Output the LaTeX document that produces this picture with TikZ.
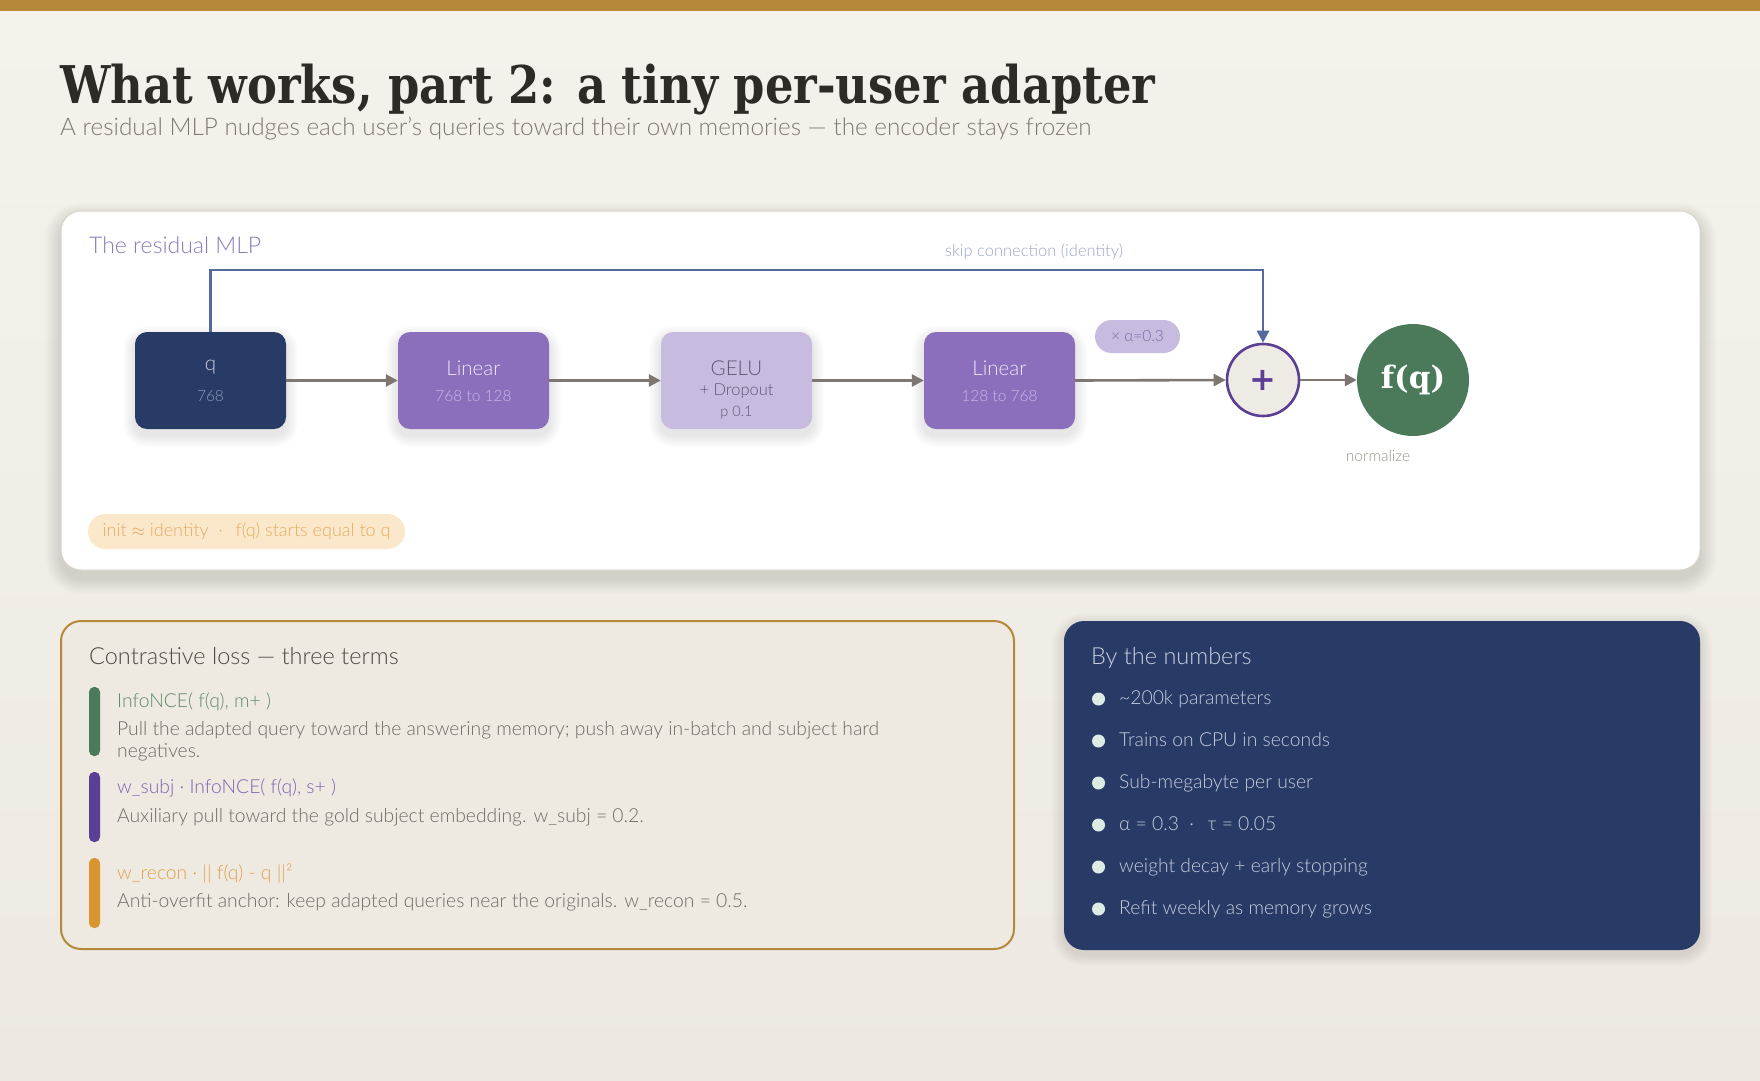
\documentclass[tikz,border=0pt]{standalone}
\usepackage{fontspec}
\setmainfont{Lato Light}
\newfontfamily\titlefont{DejaVu Serif Bold}
\newfontfamily\plusfont{DejaVu Sans Bold}
\usetikzlibrary{arrows.meta}
\definecolor{gold}{HTML}{B5883A}
\definecolor{bgtop}{HTML}{F5F2EC}
\definecolor{bgbot}{HTML}{EDE9E2}
\definecolor{titlec}{HTML}{2E2A25}
\definecolor{subc}{HTML}{7D7871}
\definecolor{cardborder}{HTML}{DAD4C8}
\definecolor{navy}{HTML}{283B66}
\definecolor{violet}{HTML}{8B6FBD}
\definecolor{lavender}{HTML}{C7BCE0}
\definecolor{arrowc}{HTML}{7E7670}
\definecolor{skipc}{HTML}{56699E}
\definecolor{skiplab}{HTML}{9AA6CC}
\definecolor{deeppurple}{HTML}{5B3F95}
\definecolor{cream}{HTML}{EEEAE4}
\definecolor{green}{HTML}{4A7A5A}
\definecolor{initfill}{HTML}{FBE7CA}
\definecolor{inittext}{HTML}{E2AD62}
\definecolor{lossfill}{HTML}{EEE9E1}
\definecolor{losstitle}{HTML}{4D4843}
\definecolor{descc}{HTML}{6F6A64}
\definecolor{greenhead}{HTML}{5E8C6A}
\definecolor{purplehead}{HTML}{7A66B0}
\definecolor{orangehead}{HTML}{E0A24A}
\definecolor{orangebar}{HTML}{D9952F}
\definecolor{numtitle}{HTML}{C9CFE0}
\definecolor{bulletc}{HTML}{DCEBE4}
\definecolor{numtext}{HTML}{C5CCDD}
\definecolor{mlplab}{HTML}{8B7BB8}
\definecolor{qtext}{HTML}{C9CFE0}
\definecolor{qsub}{HTML}{8E9ABB}
\definecolor{lintext}{HTML}{EEE7F8}
\definecolor{linsub}{HTML}{C9B8E6}
\definecolor{gelutext}{HTML}{5F5770}
\definecolor{alphatext}{HTML}{7A6BA6}
\definecolor{normc}{HTML}{9A948C}
% soft layered shadow: x1 y1 x2 y2 radius yoffset layers step opacity
\newcommand\mysoftshadow[9]{%
  \foreach \k in {1,...,#7}{%
    \fill[black,opacity=#9,rounded corners={(#5+\k*#8)*1pt}]
      ({#1-\k*#8},{#2+#6-\k*#8}) rectangle ({#3+\k*#8},{#4+#6+\k*#8});
  }}
\tikzset{
  block/.style={rounded corners=12pt,minimum width=151pt,minimum height=97pt,inner sep=0pt},
  arr/.style={draw=arrowc,line width=2.6pt,-{Triangle[length=12pt,width=12pt]}},
  skiparr/.style={draw=skipc,line width=2.6pt,-{Triangle[length=12pt,width=12pt]}},
  lbl/.style={inner sep=0pt},
  bl/.style={inner sep=0pt,anchor=base west},
  bullet/.style={circle,fill=bulletc,minimum size=13pt,inner sep=0pt},
}
\begin{document}
\begin{tikzpicture}[x=1pt,y=-1pt]
\useasboundingbox (0,0) rectangle (1760,1080);
\shade[top color=bgtop,bottom color=bgbot] (0,0) rectangle (1760,1080);
\fill[gold] (0,0) rectangle (1760,11);
% title
\node[bl,text=titlec] (title) at (60,103) {\resizebox{1095pt}{\height}{\titlefont\fontsize{52}{60}\selectfont What works, part 2: a tiny per-user adapter}};
\node[bl,text=subc] (subtitle) at (60,135) {\fontsize{24.3}{28}\selectfont A residual MLP nudges each user's queries toward their own memories — the encoder stays frozen};
% main card
\mysoftshadow{61}{211}{1700}{570}{20}{8}{10}{1.6}{0.012}
\node[draw=cardborder,line width=1pt,fill=white,rounded corners=20pt,minimum width=1639pt,minimum height=359pt,inner sep=0pt] (card) at (880.5,390.5) {};
\node[bl,text=mlplab] (mlptitle) at (89,253) {\fontsize{23}{27}\selectfont The residual MLP};
% blocks
\mysoftshadow{135}{332}{286}{429}{12}{6}{8}{1.5}{0.012}
\mysoftshadow{398}{332}{549}{429}{12}{6}{8}{1.5}{0.012}
\mysoftshadow{661}{332}{812}{429}{12}{6}{8}{1.5}{0.012}
\mysoftshadow{924}{332}{1075}{429}{12}{6}{8}{1.5}{0.012}
\node[block,fill=navy] (q) at (210.5,380.5) {};
\node[lbl,text=qtext] (qt) at (210.5,367) {\fontsize{20.5}{24}\selectfont q};
\node[lbl,text=qsub] (qs) at (210.5,396) {\fontsize{15.5}{18}\selectfont 768};
\node[block,fill=violet] (lin1) at (473.5,380.5) {};
\node[lbl,text=lintext] (l1t) at (473.5,368) {\fontsize{20.5}{24}\selectfont Linear};
\node[lbl,text=linsub] (l1s) at (473.5,396) {\fontsize{15.5}{18}\selectfont 768 to 128};
\node[block,fill=lavender] (gelu) at (736.5,380.5) {};
\node[lbl,text=gelutext] (gt) at (736.5,368) {\fontsize{20.5}{24}\selectfont GELU};
\node[lbl,text=gelutext] (gd) at (736.5,391) {\fontsize{16.5}{19}\selectfont + Dropout};
\node[lbl,text=gelutext] (gp) at (736.5,413) {\fontsize{14.5}{17}\selectfont p 0.1};
\node[block,fill=violet] (lin2) at (999.5,380.5) {};
\node[lbl,text=lintext] (l2t) at (999.5,368) {\fontsize{20.5}{24}\selectfont Linear};
\node[lbl,text=linsub] (l2s) at (999.5,396) {\fontsize{15.5}{18}\selectfont 128 to 768};
% alpha pill
\node[fill=lavender,rounded corners=16.5pt,minimum width=85pt,minimum height=33pt,inner sep=0pt,text=alphatext] (alpha) at (1137.5,336.5) {\fontsize{15.5}{18}\selectfont × α=0.3};
% plus and output
\node[circle,draw=deeppurple,line width=2.6pt,fill=cream,minimum size=72pt,inner sep=0pt,text=deeppurple] (plus) at (1263,380) {\plusfont\fontsize{32}{34}\selectfont +};
\node[circle,fill=green,minimum size=112pt,inner sep=0pt,text=white] (fq) at (1413,380) {\titlefont\fontsize{31}{34}\selectfont f(q)};
\node[lbl,text=normc] (norm) at (1378,456) {\fontsize{15.5}{18}\selectfont normalize};
% connectors
\draw[arr] (q.east) -- (lin1.west);
\draw[arr] (lin1.east) -- (gelu.west);
\draw[arr] (gelu.east) -- (lin2.west);
\draw[arr] (lin2.east) -- (plus.west);
\draw[arr] (plus.east) -- (fq.west);
\coordinate (skipcorner) at (210.5,270);
\draw[skiparr] (q.north) -- (skipcorner) -| (plus.north);
\node[lbl,text=skiplab] (skiplabel) at (1034,252) {\fontsize{16.5}{19}\selectfont skip connection (identity)};
% init pill
\node[fill=initfill,rounded corners=17.5pt,minimum width=317pt,minimum height=35pt,inner sep=0pt,text=inittext] (init) at (246.5,531.5) {\fontsize{18}{20}\selectfont init $\approx$ identity \ ·\ \, f(q) starts equal to q};
% loss card
\node[draw=gold,line width=2pt,fill=lossfill,rounded corners=20pt,minimum width=953pt,minimum height=328pt,inner sep=0pt] (loss) at (537.5,785) {};
\node[bl,text=losstitle] (losstitle) at (89,664) {\fontsize{23.5}{27}\selectfont Contrastive loss — three terms};
\fill[green,rounded corners=5pt] (89,687) rectangle (100,756);
\fill[deeppurple,rounded corners=5pt] (89,772) rectangle (100,842);
\fill[orangebar,rounded corners=5pt] (89,858) rectangle (100,928);
\node[bl,text=greenhead] (h1) at (117,707) {\fontsize{19.3}{22}\selectfont InfoNCE( f(q), m+ )};
\node[bl,text=descc] (d1a) at (117,735) {\fontsize{19.3}{22}\selectfont Pull the adapted query toward the answering memory; push away in-batch and subject hard};
\node[bl,text=descc] (d1b) at (117,757) {\fontsize{19.3}{22}\selectfont negatives.};
\node[bl,text=purplehead] (h2) at (117,793) {\fontsize{19.3}{22}\selectfont w\_subj · InfoNCE( f(q), s+ )};
\node[bl,text=descc] (d2) at (117,822) {\fontsize{19.3}{22}\selectfont Auxiliary pull toward the gold subject embedding. w\_subj = 0.2.};
\node[bl,text=orangehead] (h3) at (117,879) {\fontsize{19.3}{22}\selectfont w\_recon · || f(q) - q ||²};
\node[bl,text=descc] (d3) at (117,907) {\fontsize{19.3}{22}\selectfont Anti-overfit anchor: keep adapted queries near the originals. w\_recon = 0.5.};
% numbers card
\mysoftshadow{1064}{621}{1700}{950}{20}{4}{8}{1.5}{0.012}
\node[fill=navy,rounded corners=20pt,minimum width=636pt,minimum height=329pt,inner sep=0pt] (nums) at (1382,785.5) {};
\node[bl,text=numtitle] (numtitle) at (1091,664) {\fontsize{23.5}{27}\selectfont By the numbers};
\node[bullet] (b1) at (1098.5,699) {};
\node[bullet] (b2) at (1098.5,741) {};
\node[bullet] (b3) at (1098.5,783) {};
\node[bullet] (b4) at (1098.5,825) {};
\node[bullet] (b5) at (1098.5,867) {};
\node[bullet] (b6) at (1098.5,909) {};
\node[lbl,anchor=west,text=numtext] (n1) at (1119,700) {\fontsize{19.3}{22}\selectfont \strut\textasciitilde 200k parameters};
\node[lbl,anchor=west,text=numtext] (n2) at (1119,742) {\fontsize{19.3}{22}\selectfont \strut Trains on CPU in seconds};
\node[lbl,anchor=west,text=numtext] (n3) at (1119,784) {\fontsize{19.3}{22}\selectfont \strut Sub-megabyte per user};
\node[lbl,anchor=west,text=numtext] (n4) at (1119,826) {\fontsize{19.3}{22}\selectfont \strut α = 0.3 \ ·\ \, τ = 0.05};
\node[lbl,anchor=west,text=numtext] (n5) at (1119,868) {\fontsize{19.3}{22}\selectfont \strut weight decay + early stopping};
\node[lbl,anchor=west,text=numtext] (n6) at (1119,910) {\fontsize{19.3}{22}\selectfont \strut Refit weekly as memory grows};
\end{tikzpicture}
\end{document}
